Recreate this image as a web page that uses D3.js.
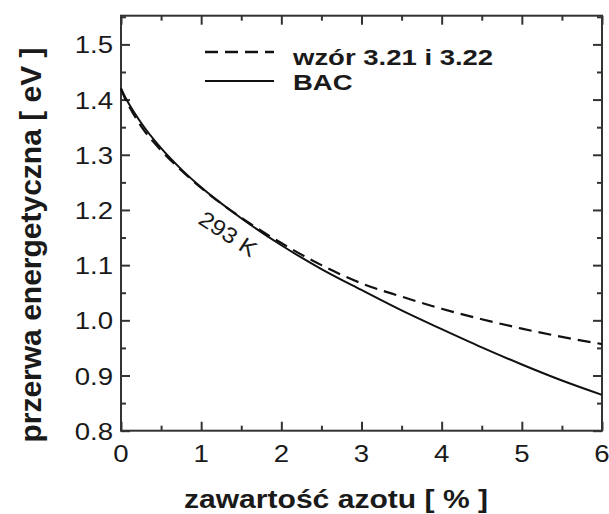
<!DOCTYPE html>
<html>
<head>
<meta charset="utf-8">
<script src="https://cdn.jsdelivr.net/npm/d3@7"></script>
<style>
  html, body { margin: 0; padding: 0; background: #fff; }
  svg { display: block; }
  text { font-family: "Liberation Sans", Arial, Helvetica, sans-serif; fill: #1a1a1a; }
</style>
</head>
<body>
<svg id="chart" width="609" height="514"></svg>
<script>
// Nitrogen content [%]
const nitrogen = [0, 0.05, 0.1, 0.25, 0.5, 0.75, 1, 1.5, 2, 2.5, 3, 3.5, 4, 4.5, 5, 5.5, 6];
// Band gap [eV] from eq. 3.21 and 3.22 (dashed)
const gapFormula = [1.42, 1.402, 1.388, 1.352, 1.308, 1.272, 1.240, 1.186, 1.140, 1.100, 1.067, 1.043, 1.021, 1.002, 0.985, 0.970, 0.957];
// Band gap [eV] from the band anticrossing model (solid)
const gapBAC = [1.42, 1.405, 1.392, 1.358, 1.312, 1.274, 1.241, 1.185, 1.136, 1.093, 1.055, 1.018, 0.984, 0.951, 0.920, 0.891, 0.865];

const xTicks = [0, 1, 2, 3, 4, 5, 6];
const xMinor = [0.5, 1.5, 2.5, 3.5, 4.5, 5.5];
const yTicks = [0.8, 0.9, 1.0, 1.1, 1.2, 1.3, 1.4, 1.5];
const yMinor = [0.85, 0.95, 1.05, 1.15, 1.25, 1.35, 1.45, 1.55];

const legendLabels = ["wzór 3.21 i 3.22", "BAC"];
const curveLabel = "293 K";
const xTitle = "zawartość azotu [ % ]";
const yTitle = "przerwa energetyczna [ eV ]";

const svg = d3.select("#chart");
const plotLeft = 121, plotRight = 602, plotTop = 15.7, plotBottom = 430.7;

const x = d3.scaleLinear().domain([0, 6]).range([plotLeft, plotRight]);
const y = d3.scaleLinear().domain([0.8, 1.552]).range([plotBottom, plotTop]);

const axisColor = "#333";

// Frame ticks (inward) on all four sides
function styleAxis(g) {
  g.select(".domain").remove();
  g.selectAll(".tick line").attr("stroke", axisColor).attr("stroke-width", 2);
  g.selectAll(".tick text").remove();
}
svg.append("g").attr("transform", `translate(0,${plotBottom})`)
  .call(d3.axisBottom(x).tickValues(xTicks).tickSize(-9)).call(styleAxis);
svg.append("g").attr("transform", `translate(0,${plotBottom})`)
  .call(d3.axisBottom(x).tickValues(xMinor).tickSize(-5)).call(styleAxis);
svg.append("g").attr("transform", `translate(0,${plotTop})`)
  .call(d3.axisTop(x).tickValues(xTicks).tickSize(-9)).call(styleAxis);
svg.append("g").attr("transform", `translate(0,${plotTop})`)
  .call(d3.axisTop(x).tickValues(xMinor).tickSize(-5)).call(styleAxis);
svg.append("g").attr("transform", `translate(${plotLeft},0)`)
  .call(d3.axisLeft(y).tickValues(yTicks).tickSize(-9)).call(styleAxis);
svg.append("g").attr("transform", `translate(${plotLeft},0)`)
  .call(d3.axisLeft(y).tickValues(yMinor).tickSize(-5)).call(styleAxis);
svg.append("g").attr("transform", `translate(${plotRight},0)`)
  .call(d3.axisRight(y).tickValues(yTicks).tickSize(-9)).call(styleAxis);
svg.append("g").attr("transform", `translate(${plotRight},0)`)
  .call(d3.axisRight(y).tickValues(yMinor).tickSize(-5)).call(styleAxis);

// Plot frame
svg.append("rect")
  .attr("x", plotLeft).attr("y", plotTop)
  .attr("width", plotRight - plotLeft).attr("height", plotBottom - plotTop)
  .attr("fill", "none").attr("stroke", axisColor).attr("stroke-width", 2);

// Tick labels
svg.append("g").selectAll("g").data(xTicks).join("g")
  .attr("transform", d => `translate(${x(d)},462) scale(1.2,1)`)
  .append("text").attr("text-anchor", "middle").attr("font-size", 23)
  .text(d => d3.format("d")(d));
svg.append("g").selectAll("g").data(yTicks).join("g")
  .attr("transform", d => `translate(113,${y(d) + 9}) scale(1.2,1)`)
  .append("text").attr("text-anchor", "end").attr("font-size", 23)
  .text(d => d3.format(".1f")(d));

// Curves
const line = d3.line().x((d, i) => x(nitrogen[i])).y(d => y(d)).curve(d3.curveMonotoneX);
svg.append("path").datum(gapFormula).attr("d", line)
  .attr("fill", "none").attr("stroke", "#111").attr("stroke-width", 2.2)
  .attr("stroke-dasharray", "13,7");
svg.append("path").datum(gapBAC).attr("d", line)
  .attr("fill", "none").attr("stroke", "#111").attr("stroke-width", 2);

// Curve annotation
svg.append("text")
  .attr("transform", "translate(228,234) rotate(33) scale(1.12,1)")
  .attr("text-anchor", "middle").attr("dominant-baseline", "central")
  .attr("font-size", 22).text(curveLabel);

// Legend
const legend = svg.append("g");
legend.append("line").attr("x1", 205).attr("x2", 274).attr("y1", 52).attr("y2", 52)
  .attr("stroke", "#111").attr("stroke-width", 2.4).attr("stroke-dasharray", "13,7");
legend.append("line").attr("x1", 205).attr("x2", 274).attr("y1", 81).attr("y2", 81)
  .attr("stroke", "#111").attr("stroke-width", 2.2);
legend.selectAll("g.lbl").data(legendLabels).join("g").attr("class", "lbl")
  .attr("transform", (d, i) => `translate(293,${65 + i * 24.5}) scale(1.25,1)`)
  .append("text").attr("font-size", 22).attr("font-weight", "bold").text(d => d);

// Axis titles
svg.append("g").attr("transform", "translate(336,508) scale(1.18,1)")
  .append("text").attr("text-anchor", "middle").attr("font-size", 25.5)
  .attr("font-weight", "bold").text(xTitle);
svg.append("g").attr("transform", "translate(41,245) rotate(-90)")
  .append("text").attr("text-anchor", "middle").attr("font-size", 30)
  .attr("font-weight", "bold").text(yTitle);
</script>
</body>
</html>
